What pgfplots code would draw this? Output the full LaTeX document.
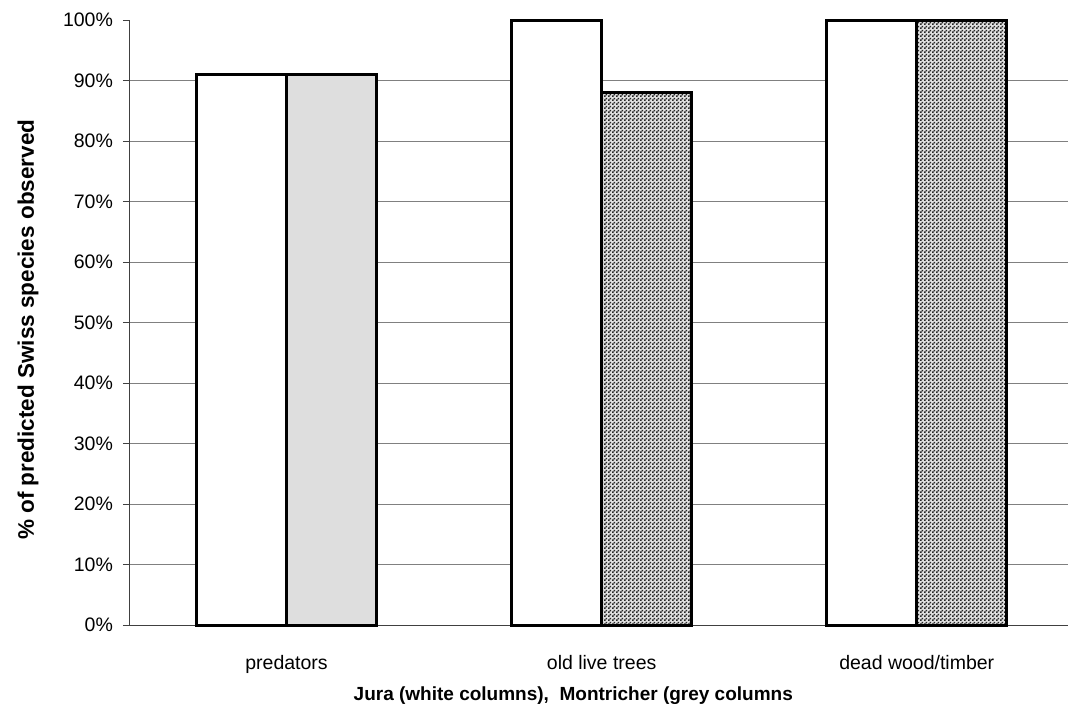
\documentclass[border=0pt]{standalone}
\usepackage{fontspec}
\setmainfont{Liberation Sans}
\usepackage{pgfplots}
\pgfplotsset{compat=1.18}
\usetikzlibrary{patterns}

% small dark checker dots, as in the scanned grey columns
\pgfdeclarepatternformonly{checker}{\pgfpointorigin}{\pgfpoint{2pt}{2pt}}{\pgfpoint{2pt}{2pt}}{%
  \pgfpathrectangle{\pgfpointorigin}{\pgfpoint{1pt}{1pt}}%
  \pgfpathrectangle{\pgfpoint{1pt}{1pt}}{\pgfpoint{1pt}{1pt}}%
  \pgfusepath{fill}}

\begin{document}
\begin{tikzpicture}
\begin{axis}[
    scale only axis,
    width=469.5pt, height=302.5pt,
    ybar, bar width=45pt,
    xmin=-0.5, xmax=2.48,
    ymin=0, ymax=100,
    axis x line*=bottom, axis y line*=left,
    axis line style={black!75, line width=0.5pt},
    xtick={0,1,2},
    xticklabels={predators, old live trees, dead wood/timber},
    major x tick style={draw=none},
    extra x ticks={0.5,1.5},
    extra x tick labels={},
    extra x tick style={major tick length=3pt, tick style={black!70}, grid=none},
    ytick={0,10,...,90},
    yticklabels={0\%,10\%,20\%,30\%,40\%,50\%,60\%,70\%,80\%,90\%},
    extra y ticks={100},
    extra y tick labels={100\%},
    extra y tick style={grid=none},
    ymajorgrids,
    grid style={black!50, line width=0.5pt},
    tick align=outside,
    major tick length=3pt,
    tick style={black!75},
    tick label style={font=\fontsize{9.75}{11}\selectfont},
    yticklabel style={xshift=-1.5pt},
    xticklabel style={anchor=base, yshift=-19pt},
    xlabel={Jura (white columns),\ \ Montricher (grey columns},
    xlabel style={font=\fontsize{9.5}{11}\selectfont\bfseries,
        at={(axis cs:0.91,0)}, anchor=base, yshift=-37.5pt},
    ylabel={\% of predicted Swiss species observed},
    ylabel style={font=\fontsize{11.25}{13}\selectfont\bfseries,
        at={(rel axis cs:0,0.488)}, anchor=center, yshift=50.5pt},
    clip=false,
]
% Jura (white columns)
\addplot[bar shift=-22.5pt, fill=white, draw=black, line width=1.5pt]
    coordinates {(0,91) (1,100) (2,100)};
% Montricher (grey columns): predators light grey
\addplot[bar shift=22.5pt, fill=black!13, draw=black, line width=1.5pt]
    coordinates {(0,91)};
% Montricher (grey columns): checker pattern
\addplot[bar shift=22.5pt, fill=black!12, draw=black, line width=1.5pt,
    postaction={pattern=checker, pattern color=black!85}]
    coordinates {(1,88) (2,100)};
\coordinate (bl) at (rel axis cs:0,0);
\end{axis}
\pgfresetboundingbox
\path[use as bounding box] (bl) ++(-64.5pt,-47.5pt) rectangle ++(534pt,360pt);
\end{tikzpicture}
\end{document}
